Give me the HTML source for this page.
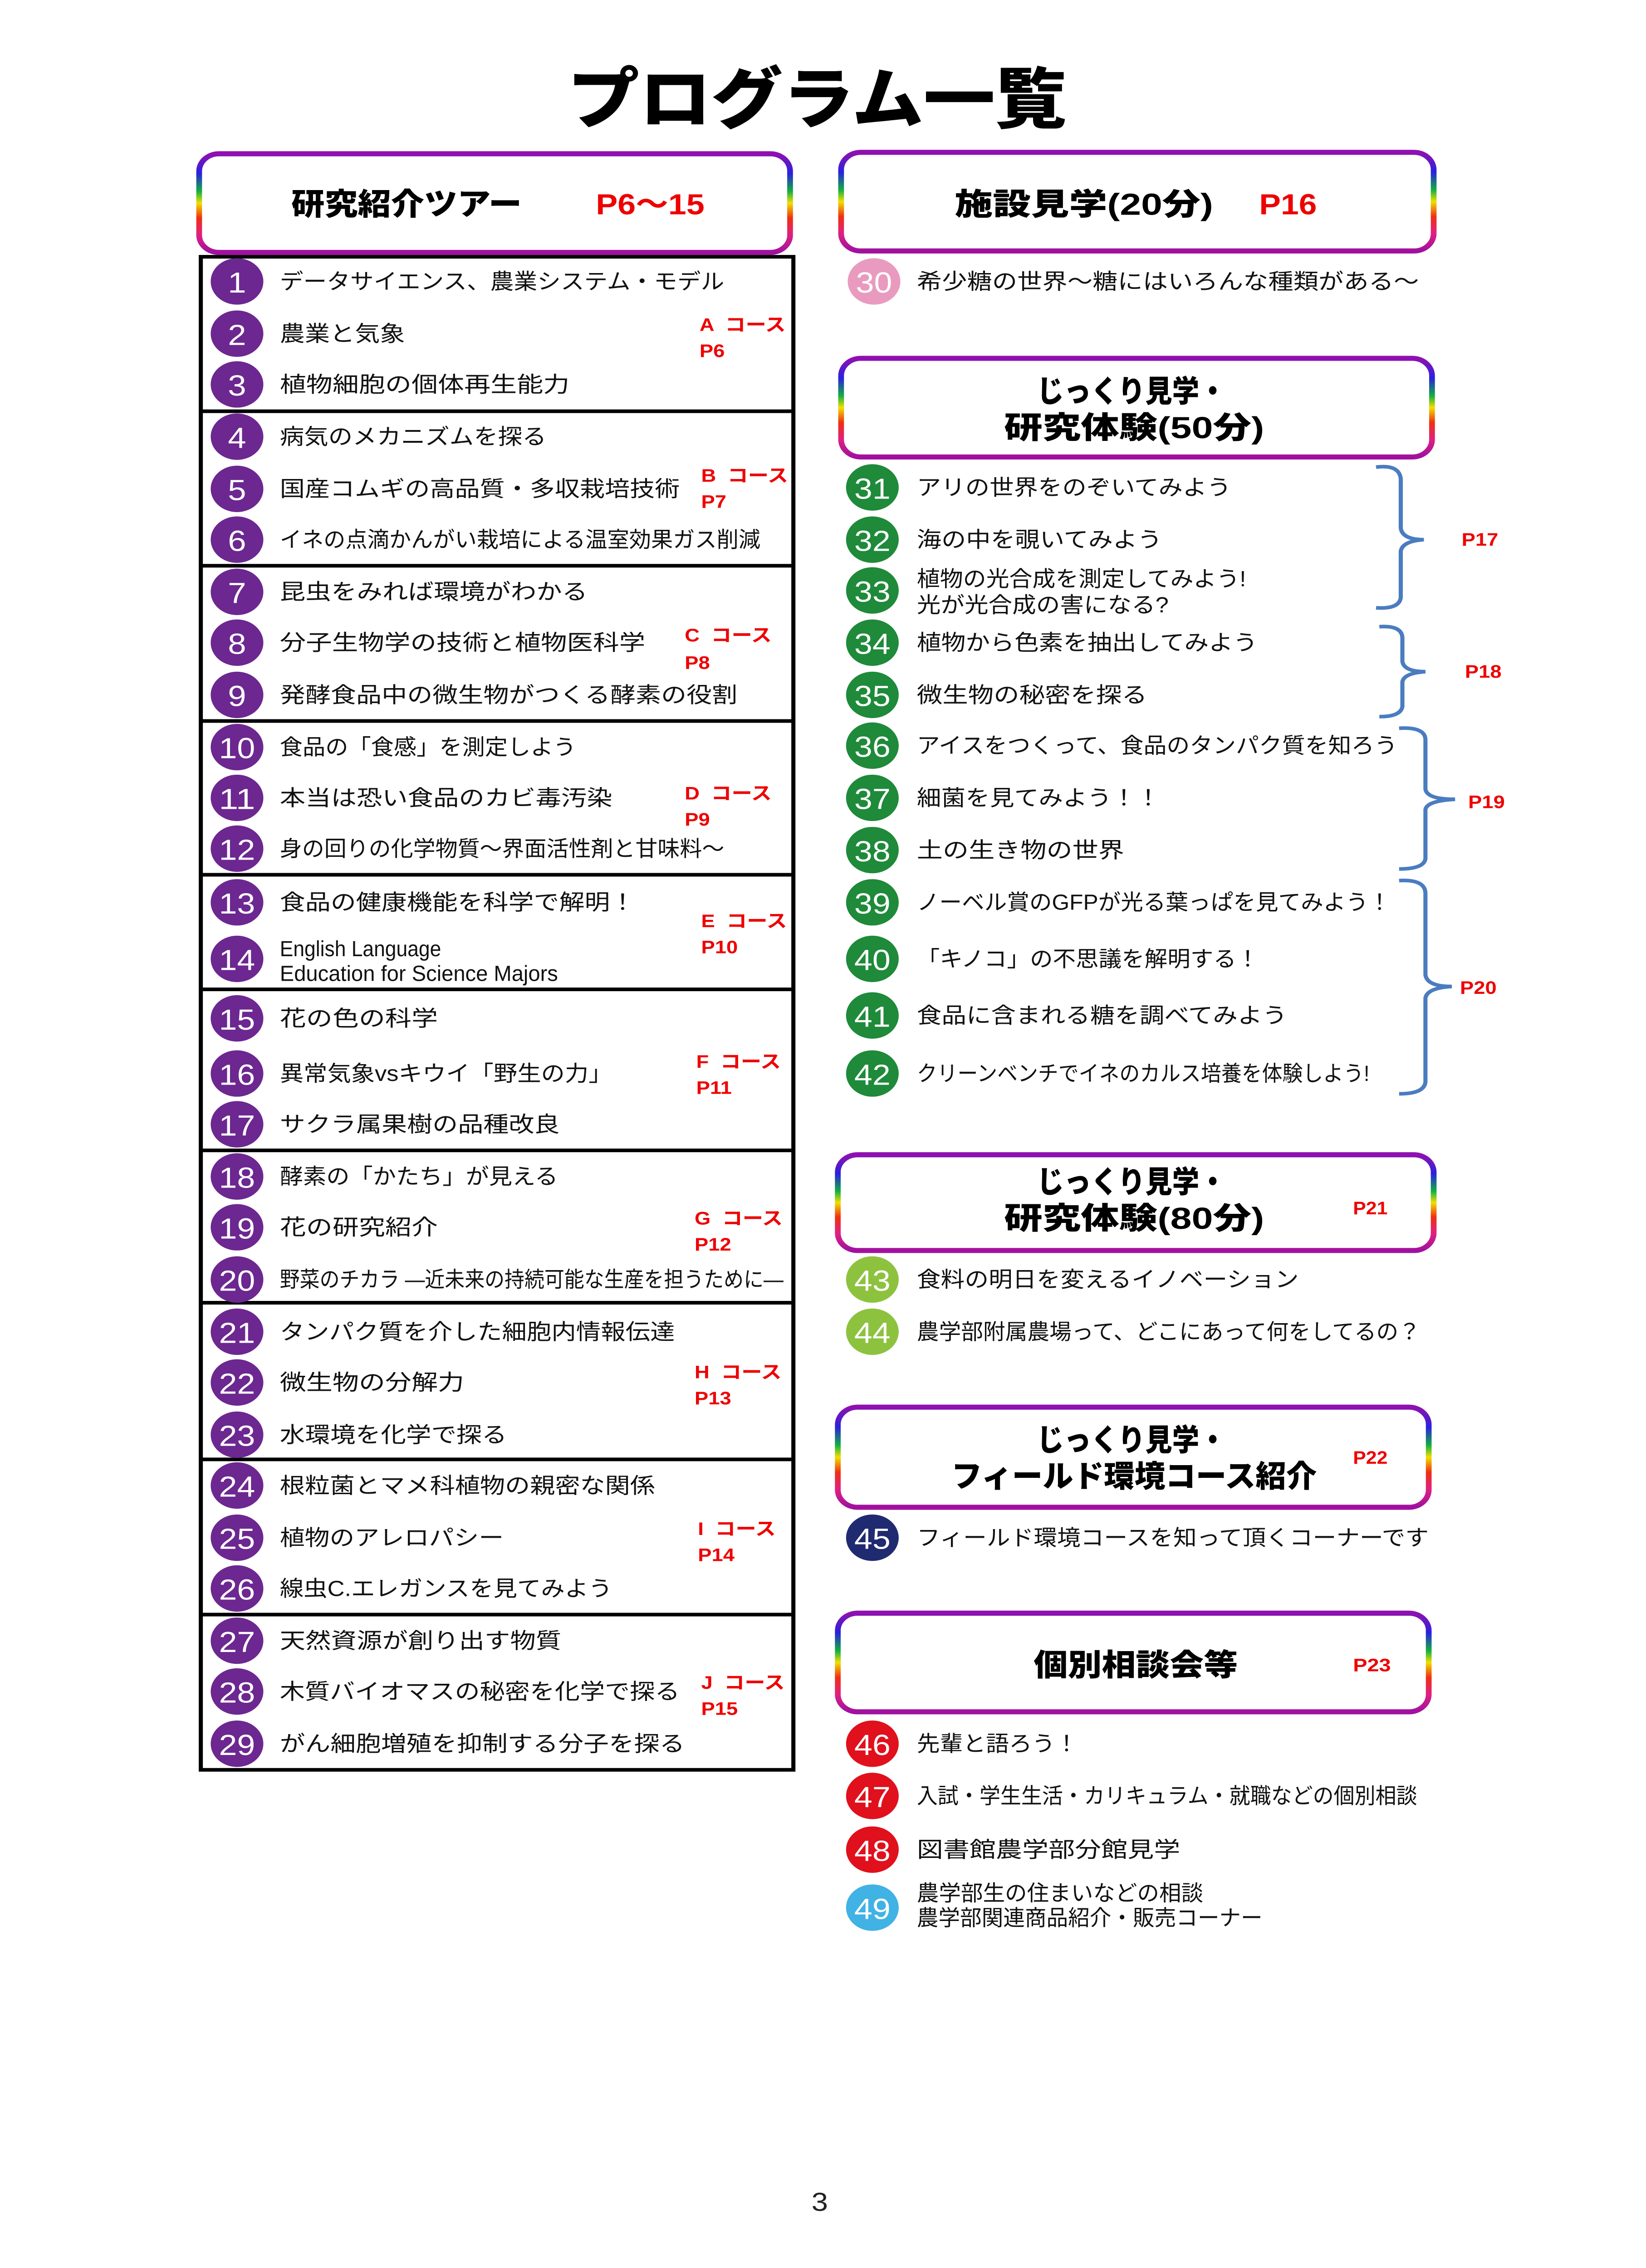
<!DOCTYPE html>
<html><head><meta charset="utf-8"><style>
html,body{margin:0;padding:0;background:#fff;width:100%;height:100%;overflow:hidden;}
svg{display:block;width:100vw;height:100vh;}
text{font-family:"Liberation Sans","Noto Sans CJK JP",sans-serif;dominant-baseline:central;}
.t{font-size:15px;fill:#111;}
.n{font-size:20px;fill:#fff;text-anchor:middle;}
.r{font-size:12.5px;fill:#e00;font-weight:bold;white-space:pre;}
.h{font-size:21px;font-weight:900;fill:#000;}
.hr{font-size:20px;font-weight:bold;fill:#e00;}
.br{fill:none;stroke:#4a7cc0;stroke-width:2.5;}
</style></head><body>
<svg viewBox="0 0 1000 1563.4" preserveAspectRatio="none" xmlns="http://www.w3.org/2000/svg">
<defs>
<linearGradient id="rb" x1="0" y1="0" x2="0" y2="1">
<stop offset="0" stop-color="#9010b0"/><stop offset="0.2" stop-color="#2a20e0"/>
<stop offset="0.38" stop-color="#10b040"/><stop offset="0.5" stop-color="#f0e000"/>
<stop offset="0.65" stop-color="#f03010"/><stop offset="0.82" stop-color="#e02080"/>
<stop offset="1" stop-color="#a010a0"/></linearGradient>
</defs>
<rect width="1000" height="1563.4" fill="#fff"/>
<text x="345" y="69" font-size="46" font-weight="900" textLength="303" lengthAdjust="spacingAndGlyphs">プログラム一覧</text>

<rect x="121" y="106" width="359" height="68" rx="12" fill="#fff" stroke="url(#rb)" stroke-width="3.5"/>
<text class="h" x="177" y="141" textLength="140" lengthAdjust="spacingAndGlyphs">研究紹介ツアー</text>
<text class="hr" x="362" y="141" textLength="66" lengthAdjust="spacingAndGlyphs">P6～15</text>

<rect x="511" y="105" width="360" height="68" rx="12" fill="#fff" stroke="url(#rb)" stroke-width="3.5"/>
<text class="h" x="580" y="141" textLength="157" lengthAdjust="spacingAndGlyphs">施設見学(20分)</text>
<text class="hr" x="765" y="141" textLength="35" lengthAdjust="spacingAndGlyphs">P16</text>

<rect x="511" y="247" width="359" height="68" rx="12" fill="#fff" stroke="url(#rb)" stroke-width="3.5"/>
<text class="h" x="630" y="270" textLength="115" lengthAdjust="spacingAndGlyphs">じっくり見学・</text>
<text class="h" x="610" y="295" textLength="158" lengthAdjust="spacingAndGlyphs">研究体験(50分)</text>

<rect x="509" y="796" width="362" height="66" rx="12" fill="#fff" stroke="url(#rb)" stroke-width="3.5"/>
<text class="h" x="630" y="815" textLength="115" lengthAdjust="spacingAndGlyphs">じっくり見学・</text>
<text class="h" x="610" y="840" textLength="158" lengthAdjust="spacingAndGlyphs">研究体験(80分)</text>
<text class="r" x="822" y="833" textLength="21" lengthAdjust="spacingAndGlyphs">P21</text>

<rect x="509" y="970" width="359" height="69" rx="12" fill="#fff" stroke="url(#rb)" stroke-width="3.5"/>
<text class="h" x="630" y="993" textLength="115" lengthAdjust="spacingAndGlyphs">じっくり見学・</text>
<text class="h" x="578" y="1018" textLength="222" lengthAdjust="spacingAndGlyphs">フィールド環境コース紹介</text>
<text class="r" x="822" y="1005" textLength="21" lengthAdjust="spacingAndGlyphs">P22</text>

<rect x="509" y="1112" width="359" height="68" rx="12" fill="#fff" stroke="url(#rb)" stroke-width="3.5"/>
<text class="h" x="628" y="1148" textLength="124" lengthAdjust="spacingAndGlyphs">個別相談会等</text>
<text class="r" x="822" y="1148" textLength="23" lengthAdjust="spacingAndGlyphs">P23</text>

<g stroke="#000" stroke-width="2.5" fill="none">
<rect x="122" y="177" width="360" height="1043"/>
<line x1="122" y1="283.5" x2="482" y2="283.5"/><line x1="122" y1="390" x2="482" y2="390"/>
<line x1="122" y1="497" x2="482" y2="497"/><line x1="122" y1="603" x2="482" y2="603"/>
<line x1="122" y1="682" x2="482" y2="682"/><line x1="122" y1="793" x2="482" y2="793"/>
<line x1="122" y1="898" x2="482" y2="898"/><line x1="122" y1="1006" x2="482" y2="1006"/>
<line x1="122" y1="1113" x2="482" y2="1113"/>
</g>

<g fill="#6c2790">
<circle cx="144" cy="194" r="16"/><circle cx="144" cy="230" r="16"/><circle cx="144" cy="265" r="16"/>
<circle cx="144" cy="301" r="16"/><circle cx="144" cy="337" r="16"/><circle cx="144" cy="372" r="16"/>
<circle cx="144" cy="408" r="16"/><circle cx="144" cy="443" r="16"/><circle cx="144" cy="479" r="16"/>
<circle cx="144" cy="515" r="16"/><circle cx="144" cy="550" r="16"/><circle cx="144" cy="585" r="16"/>
<circle cx="144" cy="622" r="16"/><circle cx="144" cy="661" r="16"/><circle cx="144" cy="702" r="16"/>
<circle cx="144" cy="740" r="16"/><circle cx="144" cy="775" r="16"/><circle cx="144" cy="811" r="16"/>
<circle cx="144" cy="846" r="16"/><circle cx="144" cy="882" r="16"/><circle cx="144" cy="918" r="16"/>
<circle cx="144" cy="953" r="16"/><circle cx="144" cy="989" r="16"/><circle cx="144" cy="1024" r="16"/>
<circle cx="144" cy="1060" r="16"/><circle cx="144" cy="1095" r="16"/><circle cx="144" cy="1131" r="16"/>
<circle cx="144" cy="1166" r="16"/><circle cx="144" cy="1202" r="16"/>
</g>
<g>
<text class="n" x="144" y="195">1</text><text class="n" x="144" y="231">2</text><text class="n" x="144" y="266">3</text>
<text class="n" x="144" y="302">4</text><text class="n" x="144" y="338">5</text><text class="n" x="144" y="373">6</text>
<text class="n" x="144" y="409">7</text><text class="n" x="144" y="444">8</text><text class="n" x="144" y="480">9</text>
<text class="n" x="144" y="516" textLength="22" lengthAdjust="spacingAndGlyphs">10</text>
<text class="n" x="144" y="551" textLength="22" lengthAdjust="spacingAndGlyphs">11</text>
<text class="n" x="144" y="586" textLength="22" lengthAdjust="spacingAndGlyphs">12</text>
<text class="n" x="144" y="623" textLength="22" lengthAdjust="spacingAndGlyphs">13</text>
<text class="n" x="144" y="662" textLength="22" lengthAdjust="spacingAndGlyphs">14</text>
<text class="n" x="144" y="703" textLength="22" lengthAdjust="spacingAndGlyphs">15</text>
<text class="n" x="144" y="741" textLength="22" lengthAdjust="spacingAndGlyphs">16</text>
<text class="n" x="144" y="776" textLength="22" lengthAdjust="spacingAndGlyphs">17</text>
<text class="n" x="144" y="812" textLength="22" lengthAdjust="spacingAndGlyphs">18</text>
<text class="n" x="144" y="847" textLength="22" lengthAdjust="spacingAndGlyphs">19</text>
<text class="n" x="144" y="883" textLength="22" lengthAdjust="spacingAndGlyphs">20</text>
<text class="n" x="144" y="919" textLength="22" lengthAdjust="spacingAndGlyphs">21</text>
<text class="n" x="144" y="954" textLength="22" lengthAdjust="spacingAndGlyphs">22</text>
<text class="n" x="144" y="990" textLength="22" lengthAdjust="spacingAndGlyphs">23</text>
<text class="n" x="144" y="1025" textLength="22" lengthAdjust="spacingAndGlyphs">24</text>
<text class="n" x="144" y="1061" textLength="22" lengthAdjust="spacingAndGlyphs">25</text>
<text class="n" x="144" y="1096" textLength="22" lengthAdjust="spacingAndGlyphs">26</text>
<text class="n" x="144" y="1132" textLength="22" lengthAdjust="spacingAndGlyphs">27</text>
<text class="n" x="144" y="1167" textLength="22" lengthAdjust="spacingAndGlyphs">28</text>
<text class="n" x="144" y="1203" textLength="22" lengthAdjust="spacingAndGlyphs">29</text>
</g>
<g>
<text class="t" x="170" y="194" textLength="270" lengthAdjust="spacingAndGlyphs">データサイエンス、農業システム・モデル</text>
<text class="t" x="170" y="230" textLength="76" lengthAdjust="spacingAndGlyphs">農業と気象</text>
<text class="t" x="170" y="265" textLength="176" lengthAdjust="spacingAndGlyphs">植物細胞の個体再生能力</text>
<text class="t" x="170" y="301" textLength="162" lengthAdjust="spacingAndGlyphs">病気のメカニズムを探る</text>
<text class="t" x="170" y="337" textLength="243" lengthAdjust="spacingAndGlyphs">国産コムギの高品質・多収栽培技術</text>
<text class="t" x="170" y="372" font-size="13" textLength="292" lengthAdjust="spacingAndGlyphs">イネの点滴かんがい栽培による温室効果ガス削減</text>
<text class="t" x="170" y="408" textLength="187" lengthAdjust="spacingAndGlyphs">昆虫をみれば環境がわかる</text>
<text class="t" x="170" y="443" textLength="222" lengthAdjust="spacingAndGlyphs">分子生物学の技術と植物医科学</text>
<text class="t" x="170" y="479" textLength="278" lengthAdjust="spacingAndGlyphs">発酵食品中の微生物がつくる酵素の役割</text>
<text class="t" x="170" y="515" textLength="180" lengthAdjust="spacingAndGlyphs">食品の「食感」を測定しよう</text>
<text class="t" x="170" y="550" textLength="202" lengthAdjust="spacingAndGlyphs">本当は恐い食品のカビ毒汚染</text>
<text class="t" x="170" y="585" font-size="13" textLength="270" lengthAdjust="spacingAndGlyphs">身の回りの化学物質～界面活性剤と甘味料～</text>
<text class="t" x="170" y="622" textLength="216" lengthAdjust="spacingAndGlyphs">食品の健康機能を科学で解明！</text>
<text class="t" x="170" y="654" font-size="13" textLength="98" lengthAdjust="spacingAndGlyphs">English Language</text>
<text class="t" x="170" y="671" font-size="13" textLength="169" lengthAdjust="spacingAndGlyphs">Education for Science Majors</text>
<text class="t" x="170" y="702" textLength="96" lengthAdjust="spacingAndGlyphs">花の色の科学</text>
<text class="t" x="170" y="740" textLength="202" lengthAdjust="spacingAndGlyphs">異常気象vsキウイ「野生の力」</text>
<text class="t" x="170" y="775" textLength="170" lengthAdjust="spacingAndGlyphs">サクラ属果樹の品種改良</text>
<text class="t" x="170" y="811" textLength="169" lengthAdjust="spacingAndGlyphs">酵素の「かたち」が見える</text>
<text class="t" x="170" y="846" textLength="96" lengthAdjust="spacingAndGlyphs">花の研究紹介</text>
<text class="t" x="170" y="882" font-size="12.5" textLength="306" lengthAdjust="spacingAndGlyphs">野菜のチカラ ―近未来の持続可能な生産を担うために―</text>
<text class="t" x="170" y="918" textLength="240" lengthAdjust="spacingAndGlyphs">タンパク質を介した細胞内情報伝達</text>
<text class="t" x="170" y="953" textLength="112" lengthAdjust="spacingAndGlyphs">微生物の分解力</text>
<text class="t" x="170" y="989" textLength="138" lengthAdjust="spacingAndGlyphs">水環境を化学で探る</text>
<text class="t" x="170" y="1024" textLength="228" lengthAdjust="spacingAndGlyphs">根粒菌とマメ科植物の親密な関係</text>
<text class="t" x="170" y="1060" textLength="136" lengthAdjust="spacingAndGlyphs">植物のアレロパシー</text>
<text class="t" x="170" y="1095" textLength="202" lengthAdjust="spacingAndGlyphs">線虫C.エレガンスを見てみよう</text>
<text class="t" x="170" y="1131" textLength="171" lengthAdjust="spacingAndGlyphs">天然資源が創り出す物質</text>
<text class="t" x="170" y="1166" textLength="243" lengthAdjust="spacingAndGlyphs">木質バイオマスの秘密を化学で探る</text>
<text class="t" x="170" y="1202" textLength="246" lengthAdjust="spacingAndGlyphs">がん細胞増殖を抑制する分子を探る</text>
</g>
<g>
<text class="r" x="425" y="224">A  コース</text><text class="r" x="425" y="242">P6</text>
<text class="r" x="426" y="328">B  コース</text><text class="r" x="426" y="346">P7</text>
<text class="r" x="416" y="438">C  コース</text><text class="r" x="416" y="457">P8</text>
<text class="r" x="416" y="547">D  コース</text><text class="r" x="416" y="565">P9</text>
<text class="r" x="426" y="635">E  コース</text><text class="r" x="426" y="653">P10</text>
<text class="r" x="423" y="732">F  コース</text><text class="r" x="423" y="750">P11</text>
<text class="r" x="422" y="840">G  コース</text><text class="r" x="422" y="858">P12</text>
<text class="r" x="422" y="946">H  コース</text><text class="r" x="422" y="964">P13</text>
<text class="r" x="424" y="1054">I  コース</text><text class="r" x="424" y="1072">P14</text>
<text class="r" x="426" y="1160">J  コース</text><text class="r" x="426" y="1178">P15</text>
</g>

<circle cx="531" cy="194" r="16" fill="#e99bbf"/>
<g fill="#1e8a3a">
<circle cx="530" cy="336" r="16"/><circle cx="530" cy="372" r="16"/><circle cx="530" cy="407" r="16"/>
<circle cx="530" cy="443" r="16"/><circle cx="530" cy="479" r="16"/><circle cx="530" cy="514" r="16"/>
<circle cx="530" cy="550" r="16"/><circle cx="530" cy="586" r="16"/><circle cx="530" cy="622" r="16"/>
<circle cx="530" cy="661" r="16"/><circle cx="530" cy="700" r="16"/><circle cx="530" cy="740" r="16"/>
</g>
<circle cx="530" cy="882" r="16" fill="#8dc23f"/><circle cx="530" cy="918" r="16" fill="#8dc23f"/>
<circle cx="530" cy="1060" r="16" fill="#1f2a70"/>
<circle cx="530" cy="1202" r="16" fill="#e0101c"/><circle cx="530" cy="1238" r="16" fill="#e0101c"/><circle cx="530" cy="1275" r="16" fill="#e0101c"/>
<circle cx="530" cy="1315" r="16" fill="#40b2e4"/>
<g>
<text class="n" x="531" y="195" textLength="22" lengthAdjust="spacingAndGlyphs">30</text>
<text class="n" x="530" y="337" textLength="22" lengthAdjust="spacingAndGlyphs">31</text>
<text class="n" x="530" y="373" textLength="22" lengthAdjust="spacingAndGlyphs">32</text>
<text class="n" x="530" y="408" textLength="22" lengthAdjust="spacingAndGlyphs">33</text>
<text class="n" x="530" y="444" textLength="22" lengthAdjust="spacingAndGlyphs">34</text>
<text class="n" x="530" y="480" textLength="22" lengthAdjust="spacingAndGlyphs">35</text>
<text class="n" x="530" y="515" textLength="22" lengthAdjust="spacingAndGlyphs">36</text>
<text class="n" x="530" y="551" textLength="22" lengthAdjust="spacingAndGlyphs">37</text>
<text class="n" x="530" y="587" textLength="22" lengthAdjust="spacingAndGlyphs">38</text>
<text class="n" x="530" y="623" textLength="22" lengthAdjust="spacingAndGlyphs">39</text>
<text class="n" x="530" y="662" textLength="22" lengthAdjust="spacingAndGlyphs">40</text>
<text class="n" x="530" y="701" textLength="22" lengthAdjust="spacingAndGlyphs">41</text>
<text class="n" x="530" y="741" textLength="22" lengthAdjust="spacingAndGlyphs">42</text>
<text class="n" x="530" y="883" textLength="22" lengthAdjust="spacingAndGlyphs">43</text>
<text class="n" x="530" y="919" textLength="22" lengthAdjust="spacingAndGlyphs">44</text>
<text class="n" x="530" y="1061" textLength="22" lengthAdjust="spacingAndGlyphs">45</text>
<text class="n" x="530" y="1203" textLength="22" lengthAdjust="spacingAndGlyphs">46</text>
<text class="n" x="530" y="1239" textLength="22" lengthAdjust="spacingAndGlyphs">47</text>
<text class="n" x="530" y="1276" textLength="22" lengthAdjust="spacingAndGlyphs">48</text>
<text class="n" x="530" y="1316" textLength="22" lengthAdjust="spacingAndGlyphs">49</text>
</g>
<g>
<text class="t" x="557" y="194" textLength="305" lengthAdjust="spacingAndGlyphs">希少糖の世界～糖にはいろんな種類がある～</text>
<text class="t" x="557" y="336" textLength="191" lengthAdjust="spacingAndGlyphs">アリの世界をのぞいてみよう</text>
<text class="t" x="557" y="372" textLength="149" lengthAdjust="spacingAndGlyphs">海の中を覗いてみよう</text>
<text class="t" x="557" y="399" font-size="13.5" textLength="200" lengthAdjust="spacingAndGlyphs">植物の光合成を測定してみよう!</text>
<text class="t" x="557" y="417" font-size="13.5" textLength="153" lengthAdjust="spacingAndGlyphs">光が光合成の害になる?</text>
<text class="t" x="557" y="443" textLength="207" lengthAdjust="spacingAndGlyphs">植物から色素を抽出してみよう</text>
<text class="t" x="557" y="479" textLength="140" lengthAdjust="spacingAndGlyphs">微生物の秘密を探る</text>
<text class="t" x="557" y="514" textLength="292" lengthAdjust="spacingAndGlyphs">アイスをつくって、食品のタンパク質を知ろう</text>
<text class="t" x="557" y="550" textLength="148" lengthAdjust="spacingAndGlyphs">細菌を見てみよう！！</text>
<text class="t" x="557" y="586" textLength="126" lengthAdjust="spacingAndGlyphs">土の生き物の世界</text>
<text class="t" x="557" y="622" textLength="288" lengthAdjust="spacingAndGlyphs">ノーベル賞のGFPが光る葉っぱを見てみよう！</text>
<text class="t" x="557" y="661" textLength="208" lengthAdjust="spacingAndGlyphs">「キノコ」の不思議を解明する！</text>
<text class="t" x="557" y="700" textLength="225" lengthAdjust="spacingAndGlyphs">食品に含まれる糖を調べてみよう</text>
<text class="t" x="557" y="740" font-size="13.5" textLength="275" lengthAdjust="spacingAndGlyphs">クリーンベンチでイネのカルス培養を体験しよう!</text>
<text class="t" x="557" y="882" textLength="232" lengthAdjust="spacingAndGlyphs">食料の明日を変えるイノベーション</text>
<text class="t" x="557" y="918" textLength="306" lengthAdjust="spacingAndGlyphs">農学部附属農場って、どこにあって何をしてるの？</text>
<text class="t" x="557" y="1060" textLength="311" lengthAdjust="spacingAndGlyphs">フィールド環境コースを知って頂くコーナーです</text>
<text class="t" x="557" y="1202" textLength="98" lengthAdjust="spacingAndGlyphs">先輩と語ろう！</text>
<text class="t" x="557" y="1238" font-size="14" textLength="304" lengthAdjust="spacingAndGlyphs">入試・学生生活・カリキュラム・就職などの個別相談</text>
<text class="t" x="557" y="1275" textLength="160" lengthAdjust="spacingAndGlyphs">図書館農学部分館見学</text>
<text class="t" x="557" y="1305" font-size="13.5" textLength="174" lengthAdjust="spacingAndGlyphs">農学部生の住まいなどの相談</text>
<text class="t" x="557" y="1322" font-size="13.5" textLength="210" lengthAdjust="spacingAndGlyphs">農学部関連商品紹介・販売コーナー</text>
</g>

<path class="br" d="M836,322 Q850,320 851,330 L851,364 Q852,372 865,372 Q852,373 851,380 L851,412 Q850,420 836,419"/>
<text class="r" x="888" y="372">P17</text>
<path class="br" d="M838,432 Q852,431 852,440 L852,456 Q853,463 866,463 Q853,464 852,470 L852,487 Q851,494 838,494"/>
<text class="r" x="890" y="463">P18</text>
<path class="br" d="M850,502 Q866,501 866,510 L866,544 Q867,551 884,551 Q867,552 866,558 L866,592 Q865,599 850,599"/>
<text class="r" x="892" y="553">P19</text>
<path class="br" d="M850,607 Q866,606 866,616 L866,672 Q867,680 882,680 Q867,681 866,688 L866,746 Q865,754 850,754"/>
<text class="r" x="887" y="681">P20</text>

<text x="498" y="1518" font-size="18" text-anchor="middle" fill="#222">3</text>
</svg>
</body></html>
